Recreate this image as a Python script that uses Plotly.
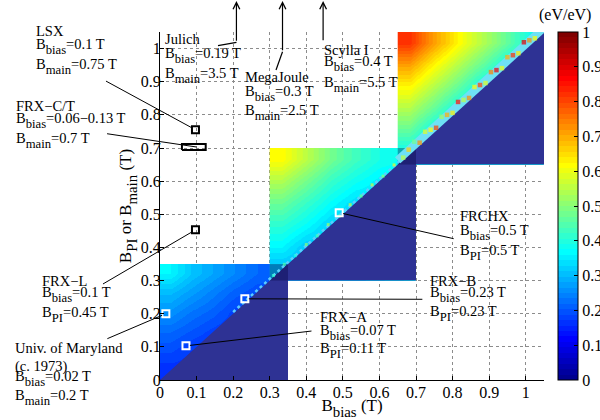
import numpy as np
import plotly.graph_objects as go

# ---------------- data ----------------
# three field blocks: [start, end] on both axes (T)
blk1_range = [0.0, 0.35]
blk2_range = [0.30, 0.70]
blk3_range = [0.65, 1.05]
# cell values (eV/eV); rows = B_PI / B_main ascending, cols = B_bias ascending
blk1_z = [
    [0.16, 0.16, 0.16, 0.17, 0.18, 0.19],
    [0.19, 0.17, 0.16, 0.17, 0.18, 0.19],
    [0.22, 0.20, 0.18, 0.17, 0.18, 0.19],
    [0.26, 0.23, 0.21, 0.18, 0.18, 0.19],
    [0.30, 0.27, 0.24, 0.21, 0.19, 0.19],
    [0.36, 0.31, 0.28, 0.25, 0.22, 0.20],
]
blk2_z = [
    [0.30, 0.30, 0.31, 0.32, 0.34, 0.36],
    [0.36, 0.31, 0.31, 0.32, 0.34, 0.36],
    [0.41, 0.37, 0.32, 0.32, 0.34, 0.36],
    [0.47, 0.42, 0.37, 0.33, 0.34, 0.36],
    [0.54, 0.48, 0.42, 0.38, 0.35, 0.36],
    [0.62, 0.55, 0.48, 0.43, 0.39, 0.37],
]
blk3_z = [
    [0.37, 0.36, 0.36, 0.36, 0.36, 0.36],
    [0.46, 0.37, 0.36, 0.36, 0.36, 0.36],
    [0.54, 0.46, 0.37, 0.36, 0.36, 0.36],
    [0.62, 0.54, 0.46, 0.37, 0.36, 0.36],
    [0.71, 0.62, 0.54, 0.46, 0.37, 0.36],
    [0.82, 0.71, 0.62, 0.54, 0.46, 0.38],
]
# speckles in the band along the B_bias = B_main diagonal
diag_t = [0.31, 0.34, 0.37, 0.40, 0.43, 0.46, 0.49, 0.52, 0.55, 0.58, 0.61, 0.64,
          0.665, 0.68, 0.695, 0.71, 0.725, 0.74, 0.755, 0.77, 0.785, 0.80, 0.815, 0.83,
          0.845, 0.86, 0.875, 0.89, 0.905, 0.92, 0.935, 0.95, 0.965, 0.98, 0.995, 1.01,
          1.025, 1.04]
diag_v = [0.42, 0.45, 0.40, 0.50, 0.44, 0.52, 0.46, 0.55, 0.48, 0.56, 0.50, 0.58,
          0.55, 0.66, 0.48, 0.72, 0.58, 0.62, 0.80, 0.52, 0.70, 0.64, 0.85, 0.55,
          0.72, 0.62, 0.80, 0.58, 0.74, 0.88, 0.60, 0.70, 0.82, 0.64, 0.90, 0.72,
          0.62, 0.86]
diag_row = [0, 1, 0, 1, 0, 1, 0, 1, 0, 1, 0, 1,
            0, 1, 2, 0, 2, 1, 0, 2, 1, 0, 2, 1,
            0, 2, 1, 0, 2, 1, 0, 2, 1, 0, 2, 1,
            0, 2]

# experiments (marker positions as drawn)
black_names = ["LSX", "FRX-L"]
black_bias = [0.097, 0.097]
black_main = [0.755, 0.453]
white_names = ["Univ. of Maryland", "FRX-A", "FRX-B", "FRCHX"]
white_bias = [0.016, 0.071, 0.232, 0.490]
white_main = [0.200, 0.103, 0.245, 0.505]
frxct_bias = [0.06, 0.125]
frxct_main = 0.703
offscale_x = [0.209, 0.335, 0.446]   # Julich, MegaJoule, Scylla I arrows

ticks = [0, 0.1, 0.2, 0.3, 0.4, 0.5, 0.6, 0.7, 0.8, 0.9, 1]
tick_text = ["0", "0.1", "0.2", "0.3", "0.4", "0.5", "0.6", "0.7", "0.8", "0.9", "1"]


def sub(s):
    return "<sub><span style='font-size:125%;baseline-shift:-2px'>" + s + "</span></sub>"


B_BIAS, B_MAIN, B_PI = "B" + sub("bias"), "B" + sub("main"), "B" + sub("PI")

# label texts: (lines, left px, cap-top px of each line)
labels = [
    (["LSX", B_BIAS + "=0.1 T", B_MAIN + "=0.75 T"], 35, [26.7, 39, 59]),
    (["FRX\u2212C/T", B_BIAS + "=0.06\u22120.13 T", B_MAIN + "=0.7 T"], 15, [101.7, 113.5, 133.5]),
    (["Julich", B_BIAS + "=0.19 T", B_MAIN + "=3.5 T"], 164, [35, 48, 68]),
    (["MegaJoule", B_BIAS + "=0.3 T", B_MAIN + "=2.5 T"], 244.3, [72.7, 86.7, 106]),
    (["Scylla I", B_BIAS + "=0.4 T", B_MAIN + "=5.5 T"], 322.7, [45, 56.7, 77]),
    (["FRX\u2212L", B_BIAS + "=0.1 T", B_PI + "=0.45 T"], 41, [276, 287.3, 307.3]),
    (["Univ. of Maryland", "(c. 1973)", B_BIAS + "=0.02 T", B_MAIN + "=0.2 T"], 14, [343.3, 361, 371.7, 390]),
    (["FRX\u2212A", B_BIAS + "=0.07 T", B_PI + "=0.11 T"], 319, [312.7, 325, 343.3]),
    (["FRX\u2212B", B_BIAS + "=0.23 T", B_PI + "=0.23 T"], 429.3, [276, 287.3, 306.7]),
    (["FRCHX", B_BIAS + "=0.5 T", B_PI + "=0.5 T"], 459, [211.7, 225, 245]),
]

# ---------------- style ----------------
FONT = "Liberation Serif, Times New Roman, serif"
W, H = 600, 420
ML, MR, MT, MB = 160, 56, 32, 40
PW, PH = W - ML - MR, H - MT - MB


def px(x):
    return (x - ML) / PW


def py(y):
    return (H - MB - y) / PH


def jet(m=64):
    n = int(np.ceil(m / 4))
    u = np.r_[np.arange(1, n + 1) / n, np.ones(n - 1), np.arange(n, 0, -1) / n]
    g = int(np.ceil(n / 2)) - int(m % 4 == 1) + np.arange(1, len(u) + 1)
    J = np.zeros((m, 3))
    for ch, idx in ((0, g + n), (1, g), (2, g - n)):
        ok = (idx >= 1) & (idx <= m)
        J[idx[ok] - 1, ch] = u[ok]
    return J


J = jet(64)
cscale = []
for i, c in enumerate(J):
    col = "rgb(%d,%d,%d)" % tuple(np.round(c * 255).astype(int))
    cscale.append([i / 64, col])
    cscale.append([(i + 1) / 64, col])

fig = go.Figure()

for rng, z in ((blk1_range, blk1_z), (blk2_range, blk2_z), (blk3_range, blk3_z)):
    n = len(z)
    edges = np.linspace(rng[0], rng[1], n + 1)
    fig.add_trace(go.Heatmap(z=z, x=edges, y=edges, zsmooth="best",
                             coloraxis="coloraxis", hoverinfo="skip"))

# region with B_main < B_bias
for rng in (blk1_range, blk2_range, blk3_range):
    fig.add_trace(go.Scatter(x=[rng[0], rng[1], rng[1], rng[0]],
                             y=[rng[0], rng[0], rng[1], rng[0]],
                             mode="lines", fill="toself", line=dict(width=0),
                             fillcolor="rgb(46,50,148)", hoverinfo="skip",
                             showlegend=False))
# overlaps of blocks appear darker
for lo, hi in ((blk2_range[0], blk1_range[1]), (blk3_range[0], blk2_range[1])):
    fig.add_trace(go.Scatter(x=[lo, hi, hi, lo, lo], y=[lo, lo, hi, hi, lo],
                             mode="lines", fill="toself", line=dict(width=0),
                             fillcolor="rgba(0,0,60,0.35)", hoverinfo="skip",
                             showlegend=False))

# diagonal band
fig.add_trace(go.Scatter(x=[0.2, blk2_range[1]], y=[0.205, blk2_range[1] + 0.006],
                         mode="lines", line=dict(color="rgb(90,205,255)", width=2.5, dash="dot"),
                         hoverinfo="skip", showlegend=False))
fig.add_trace(go.Scatter(x=[blk3_range[0], blk3_range[1]],
                         y=[blk3_range[0] + 0.013, blk3_range[1] + 0.013],
                         mode="lines", line=dict(color="rgb(110,225,245)", width=8),
                         hoverinfo="skip", showlegend=False))
dt = np.array(diag_t)
dr = np.array(diag_row)
big = dt > 0.65
fig.add_trace(go.Scatter(x=dt, y=dt + np.where(big, 0.006 + 0.009 * dr, 0.005 + 0.004 * dr),
                         mode="markers",
                         marker=dict(symbol="square", size=np.where(big, 4.5, 3),
                                     color=diag_v, coloraxis="coloraxis", line=dict(width=0)),
                         hoverinfo="skip", showlegend=False))

# experiments
fig.add_trace(go.Scatter(x=[frxct_bias[0], frxct_bias[1], frxct_bias[1], frxct_bias[0], frxct_bias[0]],
                         y=[frxct_main - 0.009, frxct_main - 0.009, frxct_main + 0.009,
                            frxct_main + 0.009, frxct_main - 0.009],
                         mode="lines", line=dict(color="black", width=2), showlegend=False))
fig.add_trace(go.Scatter(x=black_bias, y=black_main, mode="markers", text=black_names,
                         marker=dict(symbol="square-open", size=7, color="black",
                                     line=dict(width=2, color="black")), showlegend=False))
fig.add_trace(go.Scatter(x=white_bias, y=white_main, mode="markers", text=white_names,
                         marker=dict(symbol="square-open", size=7, color="white",
                                     line=dict(width=2, color="white")), showlegend=False,
                         cliponaxis=False))

ann = []
# leader lines: (x, y data point, tail px offsets, standoff)
leaders = [
    (black_bias[0], black_main[0], -91, -49.5, 4),
    (0.1, frxct_main, -91, -13.5, 0),
    (black_bias[1], black_main[1], -94, 55, 4),
    (white_bias[0], white_main[0], -60, 25.6, 4),
    (white_bias[1], white_main[1], 127, -15, 4),
    (white_bias[2], white_main[2], 179, 0.5, 4),
    (white_bias[3], white_main[3], 116, 26.4, 4),
]
for x, y, ax, ay, so in leaders:
    ann.append(dict(x=x, y=y, xref="x", yref="y", ax=ax, ay=ay, axref="pixel", ayref="pixel",
                    text="", showarrow=True, arrowhead=0, arrowwidth=1, arrowcolor="black",
                    standoff=so))
# arrows to off-scale experiments
tails = [42.3, 51.7, 41.7]
for xv, tl in zip(offscale_x, tails):
    ann.append(dict(x=xv, y=py(0.5), xref="x", yref="paper", ax=0, ay=tl - 0.5,
                    axref="pixel", ayref="pixel", text="", showarrow=True, arrowhead=5,
                    arrowsize=1.1, arrowwidth=1.2, arrowcolor="black"))

shapes = [
    dict(type="line", xref="paper", yref="paper", x0=px(218), y0=py(45.7),
         x1=offscale_x[0] / 1.05, y1=py(42.3), line=dict(color="black", width=1.2)),
    dict(type="line", xref="paper", yref="paper", x0=px(276), y0=py(70),
         x1=offscale_x[1] / 1.05, y1=py(51.7), line=dict(color="black", width=1.2)),
]

for lines, xl, tops in labels:
    for t, yt in zip(lines, tops):
        ann.append(dict(x=px(xl), y=py(yt - 4.5), xref="paper", yref="paper", text=t,
                        showarrow=False, xanchor="left", yanchor="top", align="left",
                        font=dict(family=FONT, size=14.5, color="black"), borderpad=0))

ann.append(dict(x=px(537), y=py(4), xref="paper", yref="paper", text="(eV/eV)",
                showarrow=False, xanchor="left", yanchor="top",
                font=dict(family=FONT, size=16, color="black")))

axis_common = dict(range=[0, 1.05], tickvals=ticks, ticktext=tick_text, ticks="inside",
                   ticklen=4, tickcolor="black", showline=True, linecolor="black",
                   linewidth=1, showgrid=True, gridcolor="rgb(140,140,140)", griddash="dot",
                   gridwidth=1, zeroline=False, automargin=False,
                   tickfont=dict(family=FONT, size=16, color="black"))

fig.update_layout(
    width=W, height=H, margin=dict(l=ML, r=MR, t=MT, b=MB, autoexpand=False),
    paper_bgcolor="white", plot_bgcolor="white", showlegend=False,
    xaxis=dict(**axis_common, ticklabelstandoff=-2,
               title=dict(text="B" + sub("bias") + " (T)", standoff=0,
                          font=dict(family=FONT, size=17, color="black"))),
    yaxis=dict(**axis_common, ticklabelstandoff=-5,
               title=dict(text="B" + sub("PI") + " or B" + sub("main") + " (T)", standoff=4,
                          font=dict(family=FONT, size=17, color="black"))),
    coloraxis=dict(colorscale=cscale, cmin=0, cmax=1,
                   colorbar=dict(x=px(558), xanchor="left", xpad=0, ypad=0,
                                 thickness=20, len=1, y=0.5, yanchor="middle",
                                 outlinewidth=1, outlinecolor="black",
                                 ticks="inside", ticklen=4, tickcolor="black",
                                 tickvals=ticks, ticktext=tick_text,
                                 tickfont=dict(family=FONT, size=16, color="black"))),
    annotations=ann, shapes=shapes,
)

fig.write_html("out.html", config={"displayModeBar": False},
               post_script="document.body.style.margin='0px';")
